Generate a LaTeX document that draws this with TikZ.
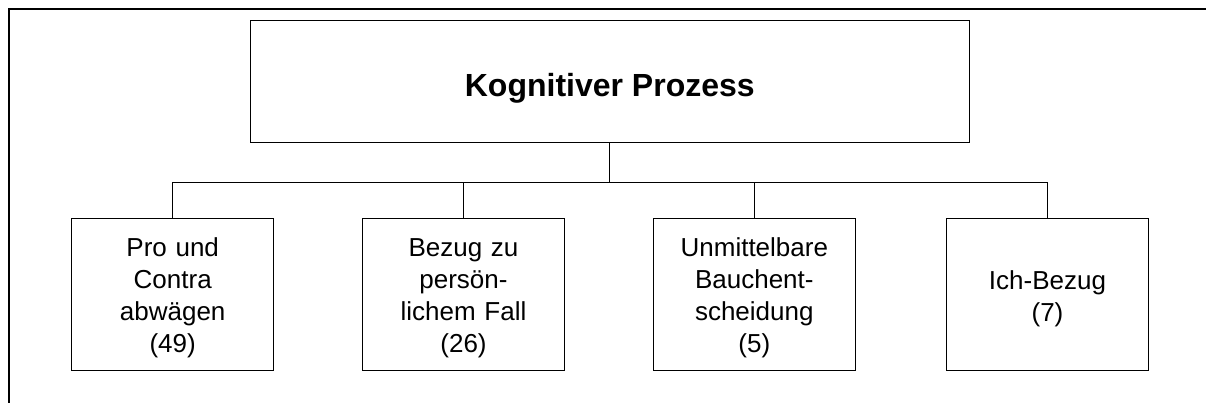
\documentclass[tikz,border=0pt]{standalone}
\usepackage{fontspec}
\setmainfont{Liberation Sans}
\begin{document}
\begin{tikzpicture}[x=1pt,y=-1pt,
  frameline/.style={line width=1.8pt},
  topbox/.style={draw,line width=1.3pt,inner sep=0pt,minimum width=719pt,
    text height=76pt,text depth=46pt,
    font=\fontsize{32}{38}\selectfont\bfseries},
  childbox/.style={draw,line width=1.3pt,inner sep=0pt,minimum width=202pt,
    text height=37.5pt,text depth=114.5pt,
    text width=195pt,align=center,font=\fontsize{26}{32}\selectfont},
  conn/.style={line width=1.3pt}]
\useasboundingbox (0,0) rectangle (1206,403);
\begin{scope}
\clip (0,0) rectangle (1206,403);
\draw[frameline] (9,410) -- (9,9) -- (1215,9);
\end{scope}
\node[topbox] (top) at (609.8,81.6) {Kognitiver Prozess};
\node[childbox] (c1) at (172.7,294.5) {Pro und\\Contra\\abwägen\\(49)};
\node[childbox] (c2) at (463.5,294.5) {Bezug zu\\persön-\\lichem Fall\\(26)};
\node[childbox] (c3) at (754.3,294.5) {Unmittelbare\\Bauchent-\\scheidung\\(5)};
\node[childbox,text height=70.5pt,text depth=81.5pt] (c4) at (1047.5,294.5) {Ich-Bezug\\(7)};
\coordinate (bus) at (609.8,182.5);
\draw[conn] (top.south) -- (bus);
\draw[conn] (c1.north) |- (c4.north |- bus) -- (c4.north);
\draw[conn] (c2.north) -- (c2.north |- bus);
\draw[conn] (c3.north) -- (c3.north |- bus);
\end{tikzpicture}
\end{document}
